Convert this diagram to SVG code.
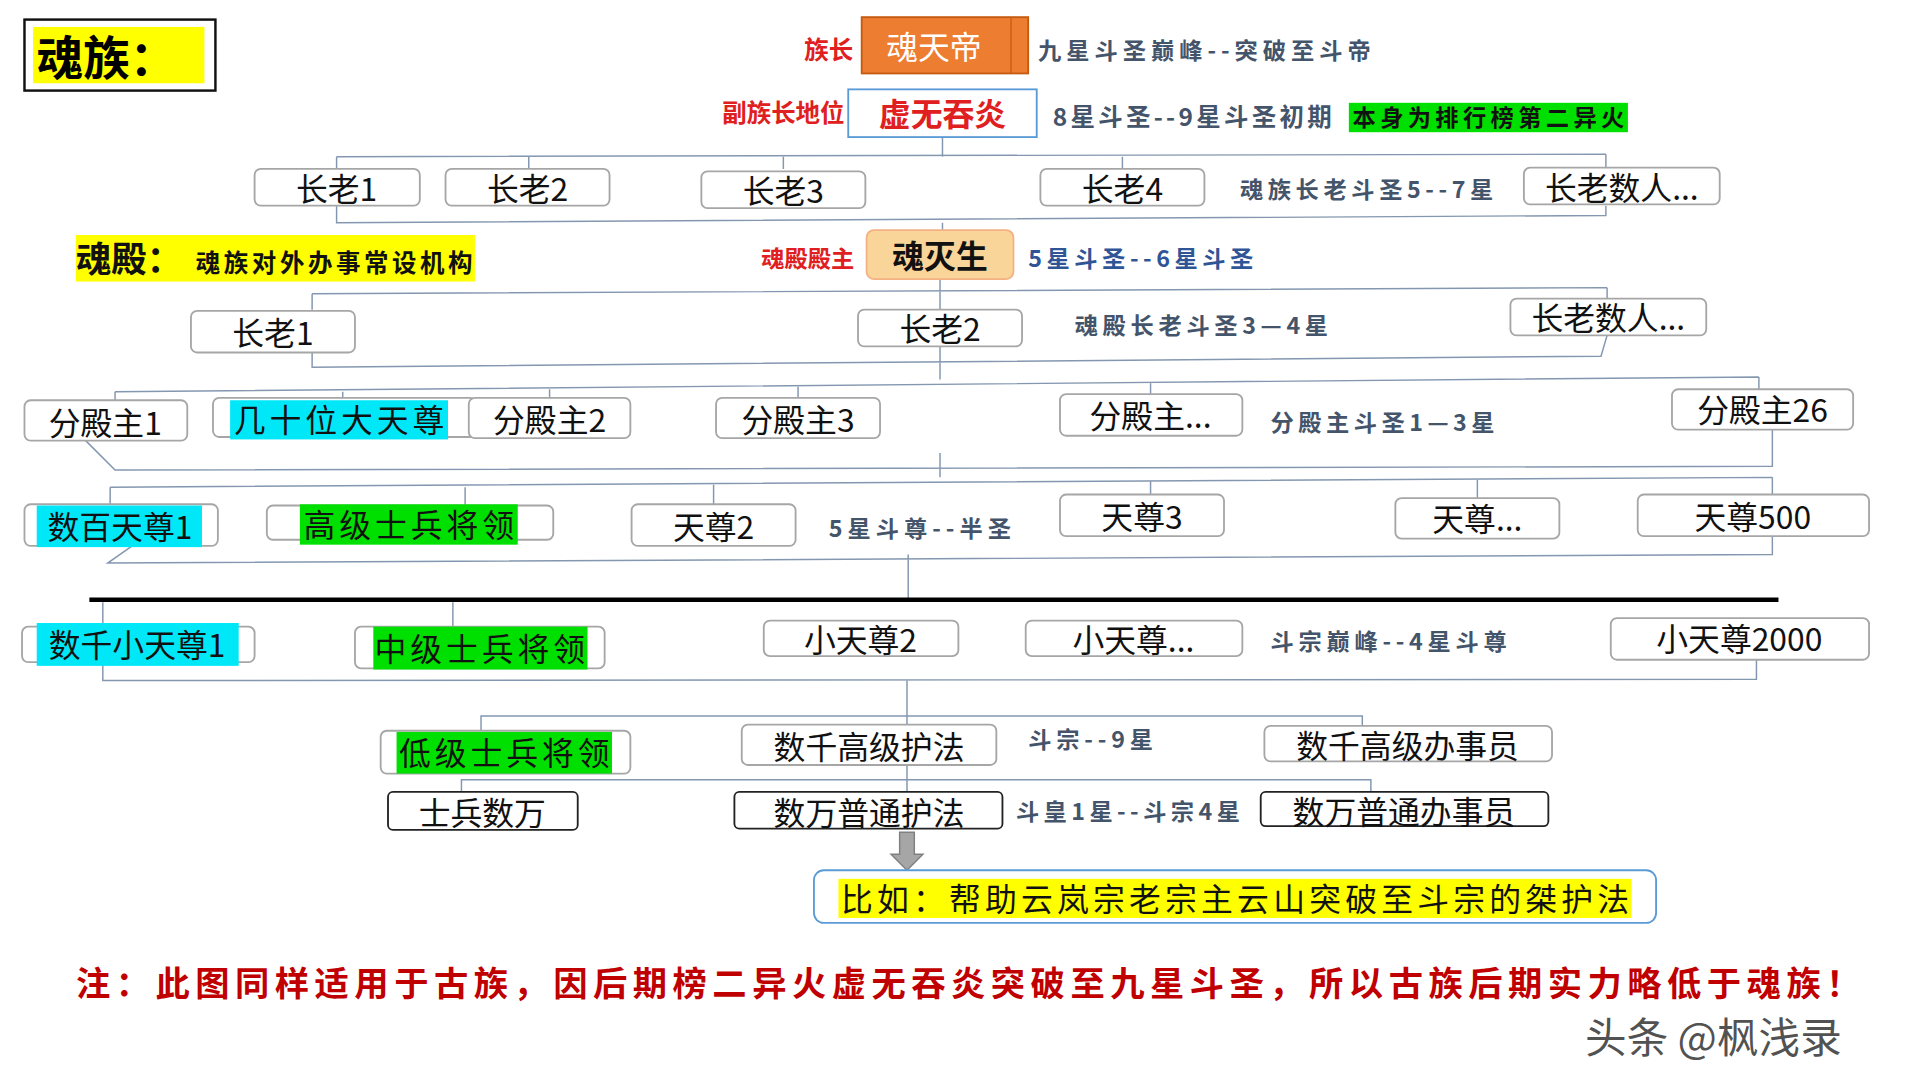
<svg xmlns="http://www.w3.org/2000/svg" width="1920" height="1080" viewBox="0 0 1920 1080">
<style>
.f{font-family:"Liberation Sans","Noto Sans CJK SC",sans-serif}
.b{fill:#fff;stroke:#a6a6a6;stroke-width:1.5}
.k{fill:#fff;stroke:#222;stroke-width:1.5}
.t{font-size:26px;fill:#111;text-anchor:middle;font-family:"Noto Sans CJK SC",sans-serif}
.n{font-size:19px;font-weight:bold;fill:#44546A;font-family:"Noto Sans CJK SC",sans-serif}
.r{font-size:20px;font-weight:bold;fill:#E02020;text-anchor:end;font-family:"Noto Sans CJK SC",sans-serif}
.c{fill:none;stroke:#8497B0;stroke-width:1.2}
</style>
<rect width="1920" height="1080" fill="#fff"/>
<g transform="scale(1.224)">
<g id="connectors" class="c">
<path d="M770 112V128M275 128L1312 126M275 128V138M432 128V138M640 128V138M917 128V138M1312 126V138"/>
<path d="M275 168V182L1312 176V168M770 182V188"/>
<path d="M768 228V238M255 240L1313 235M255 240V253M768 238V253M1313 235V244"/>
<path d="M255 288V300L1308 291L1313 274M768 283V310"/>
<path d="M94 320L1437 308M94 320V327M280 320V325M449 318V325M652 316V325M940 313V322M1437 308V318"/>
<path d="M70 360L94 384L1448 381V351M768 370V390"/>
<path d="M90 398L1448 390M90 398V412M380 398V413M583 396V412M940 393V404M1207 392V407M1448 390V404"/>
<path d="M108 446L88 460L1448 453V438M742 453V490"/>
<path d="M84 492V556L1435 555V539M370 492V512M741 555V585"/>
<path d="M393 597V585L1113 585V593M741 585V592"/>
<path d="M377 647V637L1120 637V647M741 625V647"/>
<line x1="73" y1="490" x2="1453" y2="490" stroke="#000" stroke-width="3.5"/>
<path d="M735 680H747V698H754L741 711L728 698H735Z" fill="#A6A6A6" stroke="#808080"/>
</g>
<g id="title"><rect x="20" y="16" width="156" height="58" fill="#fff" stroke="#111" stroke-width="2"/><rect x="27" y="22" width="140" height="46" fill="#FFFF00"/><text x="30" y="61" class="f" font-size="38" font-weight="bold" font-family="Noto Sans CJK SC">魂族：</text></g>
<g id="n-hunti"><text x="697" y="48" class="r">族长</text><rect x="704" y="14" width="136" height="46" fill="#ED7D31" stroke="#C55A11" stroke-width="1.5"/><line x1="826" y1="14" x2="826" y2="60" stroke="#C55A11"/><text x="763" y="48" class="t" style="fill:#fff" font-size="28">魂天帝</text><text x="848" y="48" class="n" textLength="272">九星斗圣巅峰--突破至斗帝</text></g>
<g id="n-xuwu"><text x="690" y="100" class="r">副族长地位</text><rect x="693" y="73" width="154" height="39" fill="#fff" stroke="#5B9BD5" stroke-width="1.5"/><text x="770" y="103" class="t" style="fill:#E02020;font-weight:bold" font-size="27">虚无吞炎</text><text x="860" y="103" class="n" style="font-size:20px" textLength="228">8星斗圣--9星斗圣初期</text><rect x="1102" y="84" width="228" height="24" fill="#00E000"/><text x="1105" y="103" class="n" style="fill:#111" textLength="222">本身为排行榜第二异火</text></g>
<g id="e1"><rect x="208" y="138" width="135" height="30" rx="5" class="b"/><text x="275" y="164" class="t">长老1</text></g>
<g id="e2"><rect x="364" y="138" width="134" height="30" rx="5" class="b"/><text x="431" y="164" class="t">长老2</text></g>
<g id="e3"><rect x="573" y="140" width="134" height="30" rx="5" class="b"/><text x="640" y="166" class="t">长老3</text></g>
<g id="e4"><rect x="850" y="138" width="134" height="30" rx="5" class="b"/><text x="917" y="164" class="t">长老4</text></g>
<text x="1013" y="162" class="n" textLength="207">魂族长老斗圣5--7星</text>
<g id="e5"><rect x="1245" y="137" width="160" height="30" rx="5" class="b"/><text x="1325" y="163" class="t">长老数人...</text></g>
<g id="hundian-label"><rect x="62" y="192" width="326" height="38" fill="#FFFF00"/><text x="62" y="222" font-family="Noto Sans CJK SC" font-size="29" font-weight="bold" fill="#111">魂殿：</text><text x="160" y="222" font-family="Noto Sans CJK SC" font-size="20" font-weight="bold" fill="#111" textLength="226">魂族对外办事常设机构</text></g>
<g id="n-hunmie"><text x="698" y="218" class="r" style="font-size:19px">魂殿殿主</text><rect x="708" y="188" width="120" height="40" rx="6" fill="#FAD59A" stroke="#F4B183" stroke-width="1.5"/><text x="768" y="219" class="t" style="font-weight:bold" font-size="27">魂灭生</text><text x="840" y="218" class="n" style="fill:#2F5597" textLength="184">5星斗圣--6星斗圣</text></g>
<g id="he1"><rect x="156" y="254" width="134" height="34" rx="5" class="b"/><text x="223" y="282" class="t">长老1</text></g>
<g id="he2"><rect x="701" y="253" width="134" height="30" rx="5" class="b"/><text x="768" y="279" class="t">长老2</text></g>
<text x="878" y="273" class="n" textLength="207">魂殿长老斗圣3—4星</text>
<g id="he3"><rect x="1234" y="244" width="160" height="30" rx="5" class="b"/><text x="1314" y="270" class="t">长老数人...</text></g>
<g id="f1"><rect x="20" y="327" width="133" height="33" rx="5" class="b"/><text x="86" y="355" class="t">分殿主1</text></g>
<g id="f-da"><rect x="174" y="325" width="215" height="32" rx="5" class="b"/><rect x="188" y="327" width="178" height="32" fill="#00E8F8"/><text x="277" y="353" class="t" textLength="172">几十位大天尊</text></g>
<g id="f2"><rect x="383" y="325" width="132" height="33" rx="5" class="b"/><text x="449" y="353" class="t">分殿主2</text></g>
<g id="f3"><rect x="585" y="325" width="134" height="33" rx="5" class="b"/><text x="652" y="353" class="t">分殿主3</text></g>
<g id="f4"><rect x="866" y="322" width="149" height="34" rx="5" class="b"/><text x="940" y="350" class="t">分殿主...</text></g>
<text x="1038" y="352" class="n" textLength="183">分殿主斗圣1—3星</text>
<g id="f26"><rect x="1366" y="318" width="148" height="33" rx="5" class="b"/><text x="1440" y="345" class="t">分殿主26</text></g>
<g id="t1"><rect x="20" y="412" width="158" height="34" rx="5" class="b"/><rect x="30" y="413" width="135" height="34" fill="#00E8F8"/><text x="98" y="440" class="t">数百天尊1</text></g>
<g id="tg"><rect x="218" y="413" width="234" height="28" rx="5" class="b"/><rect x="245" y="412" width="178" height="33" fill="#00E000"/><text x="334" y="439" class="t" textLength="172">高级士兵将领</text></g>
<g id="t2"><rect x="516" y="412" width="134" height="34" rx="5" class="b"/><text x="583" y="440" class="t">天尊2</text></g>
<text x="677" y="439" class="n" textLength="149">5星斗尊--半圣</text>
<g id="t3"><rect x="866" y="404" width="134" height="34" rx="5" class="b"/><text x="933" y="432" class="t">天尊3</text></g>
<g id="t4"><rect x="1140" y="407" width="134" height="33" rx="5" class="b"/><text x="1207" y="434" class="t">天尊...</text></g>
<g id="t500"><rect x="1338" y="404" width="189" height="34" rx="5" class="b"/><text x="1432" y="432" class="t">天尊500</text></g>
<g id="s1"><rect x="18" y="512" width="190" height="29" rx="5" class="b"/><rect x="30" y="509" width="165" height="35" fill="#00E8F8"/><text x="112" y="537" class="t">数千小天尊1</text></g>
<g id="sg"><rect x="290" y="512" width="204" height="34" rx="5" class="b"/><rect x="305" y="512" width="175" height="35" fill="#00E000"/><text x="392" y="540" class="t" textLength="172">中级士兵将领</text></g>
<g id="s2"><rect x="624" y="507" width="159" height="29" rx="5" class="b"/><text x="703" y="533" class="t">小天尊2</text></g>
<g id="s3"><rect x="838" y="507" width="177" height="29" rx="5" class="b"/><text x="926" y="533" class="t">小天尊...</text></g>
<text x="1038" y="531" class="n" textLength="193">斗宗巅峰--4星斗尊</text>
<g id="s2000"><rect x="1316" y="505" width="211" height="34" rx="5" class="b"/><text x="1421" y="532" class="t">小天尊2000</text></g>
<g id="lg"><rect x="311" y="597" width="204" height="35" rx="5" class="b"/><rect x="324" y="598" width="176" height="34" fill="#00E000"/><text x="412" y="625" class="t" textLength="172">低级士兵将领</text></g>
<g id="hf"><rect x="606" y="592" width="208" height="33" rx="5" class="b"/><text x="710" y="620" class="t">数千高级护法</text></g>
<text x="840" y="611" class="n" textLength="102">斗宗--9星</text>
<g id="bs"><rect x="1033" y="593" width="235" height="29" rx="5" class="b"/><text x="1150" y="619" class="t">数千高级办事员</text></g>
<g id="sb"><rect x="317" y="647" width="155" height="31" rx="4" class="k"/><text x="394" y="674" class="t">士兵数万</text></g>
<g id="ph"><rect x="600" y="647" width="219" height="30" rx="4" class="k"/><text x="710" y="674" class="t">数万普通护法</text></g>
<text x="830" y="670" class="n" textLength="183">斗皇1星--斗宗4星</text>
<g id="pb"><rect x="1030" y="647" width="235" height="28" rx="4" class="k"/><text x="1147" y="673" class="t">数万普通办事员</text></g>
<g id="example"><rect x="665" y="711" width="688" height="43" rx="8" fill="#fff" stroke="#5B9BD5" stroke-width="1.5"/><rect x="685" y="718" width="648" height="32" fill="#FFFF00"/><text x="1009" y="744" class="t" textLength="644">比如：帮助云岚宗老宗主云山突破至斗宗的桀护法</text></g>
<text x="62" y="814" font-family="Noto Sans CJK SC" font-size="28" font-weight="bold" fill="#C00000" textLength="1458">注：此图同样适用于古族，因后期榜二异火虚无吞炎突破至九星斗圣，所以古族后期实力略低于魂族！</text>
<text x="1295" y="860" font-family="Noto Sans CJK SC" font-size="34" fill="#333" fill-opacity="0.85">头条 @枫浅录</text>
</g>
</svg>
